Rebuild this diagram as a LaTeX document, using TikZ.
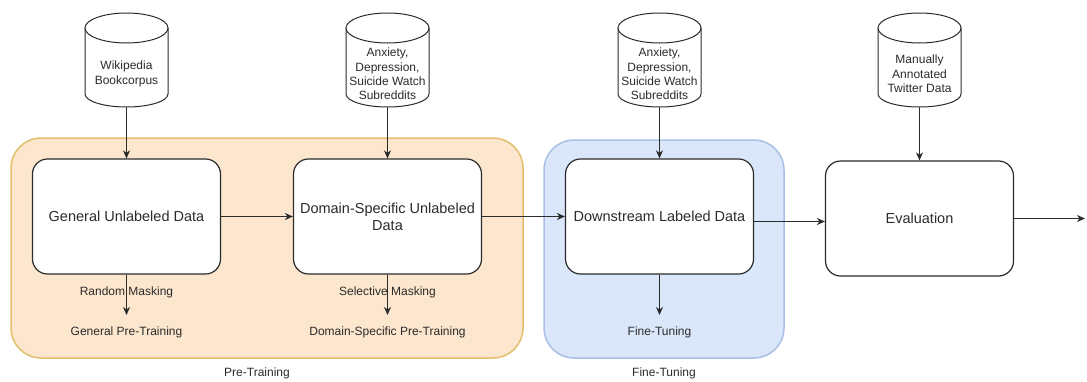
\documentclass[tikz,border=0pt]{standalone}
\usepackage{fontspec}
\setmainfont{Liberation Sans}
\usetikzlibrary{arrows.meta}

\definecolor{inkgray}{HTML}{2B2B2B}
\definecolor{ptfill}{HTML}{FCE6CD}
\definecolor{ptline}{HTML}{E3BF6C}
\definecolor{ftfill}{HTML}{DAE6F9}
\definecolor{ftline}{HTML}{A9BFE5}

\tikzset{
  arr/.style={draw=inkgray, line width=1pt, -{Stealth[length=8pt,width=7pt,inset=2.5pt]}},
  stagebox/.style={draw=inkgray, line width=1.2pt, fill=white, rounded corners=15pt,
    minimum width=188pt, minimum height=115pt, inner sep=0pt, align=center,
    font=\fontsize{14.5}{16.8}\selectfont, text=inkgray},
  dbshape/.style={minimum width=83pt, minimum height=94pt, inner sep=0pt},
  dbline/.style={draw=inkgray, line width=1pt, fill=white},
  dbtext/.style={align=center, inner sep=0pt, font=\fontsize{12}{14.4}\selectfont, text=inkgray},
  smalltext/.style={inner sep=0pt, font=\fontsize{12}{14.4}\selectfont, text=inkgray},
  group/.style={line width=1.5pt, rounded corners=30pt},
}

% a database cylinder centred at x = #2, spanning y = 13 .. 107
\newcommand\dbcyl[3]{%
  \node[dbshape] (#1) at (#2,60) {};
  \draw[dbline] (#2-41.5,28) -- (#2-41.5,94)
    arc[start angle=180, end angle=360, x radius=41.5pt, y radius=13pt]
    -- (#2+41.5,28);
  \draw[dbline] (#2,28) ellipse[x radius=41.5pt, y radius=15pt];
  \node[dbtext] at (#2,74) {#3};
}

\begin{document}
\begin{tikzpicture}[x=1pt, y=-1pt]
  \useasboundingbox (0,0) rectangle (1087,381);

  % stage containers
  \draw[group, draw=ptline, fill=ptfill] (11,138) rectangle (523,358);
  \draw[group, draw=ftline, fill=ftfill] (544,140) rectangle (784,358);
  \node[smalltext] (ptlabel) at (257,373) {Pre-Training};
  \node[smalltext] (ftlabel) at (664,373) {Fine-Tuning};

  % data sources
  \dbcyl{wiki}{126.5}{Wikipedia\\Bookcorpus}
  \dbcyl{reddit}{387.5}{Anxiety,\\Depression,\\Suicide Watch\\Subreddits}
  \dbcyl{redditft}{659.5}{Anxiety,\\Depression,\\Suicide Watch\\Subreddits}
  \dbcyl{twitter}{919.5}{Manually\\Annotated\\Twitter Data}

  % processing stages
  \node[stagebox] (gen) at (126.5,216.5) {General Unlabeled Data};
  \node[stagebox] (dom) at (387.5,216.5) {Domain-Specific Unlabeled\\Data};
  \node[stagebox] (down) at (659.5,216.5) {Downstream Labeled Data};
  \node[stagebox] (eval) at (919.5,218.5) {Evaluation};

  % outputs below the stages
  \coordinate (genout) at (126.5,315);
  \coordinate (domout) at (387.5,315);
  \coordinate (downout) at (659.5,315);
  \coordinate (evalout) at (1085,218.5);
  \node[smalltext] (rm) at (126.5,292) {Random Masking};
  \node[smalltext] (sm) at (387.5,292) {Selective Masking};
  \node[smalltext] (gpt) at (126.5,332) {General Pre-Training};
  \node[smalltext] (dpt) at (387.5,332) {Domain-Specific Pre-Training};
  \node[smalltext] (ft) at (659.5,332) {Fine-Tuning};

  % connectors
  \draw[arr] (wiki) -- (gen);
  \draw[arr] (reddit) -- (dom);
  \draw[arr] (redditft) -- (down);
  \draw[arr] (twitter) -- (eval);
  \draw[arr] (gen) -- (dom);
  \draw[arr] (dom) -- (down);
  \draw[arr] ([yshift=-5pt]down.east) -- ([yshift=-5pt]down.east -| eval.west);
  \draw[arr] (eval.east) -- (evalout);
  \draw[arr] (gen.south) -- (genout);
  \draw[arr] (dom.south) -- (domout);
  \draw[arr] (down.south) -- (downout);
\end{tikzpicture}
\end{document}
